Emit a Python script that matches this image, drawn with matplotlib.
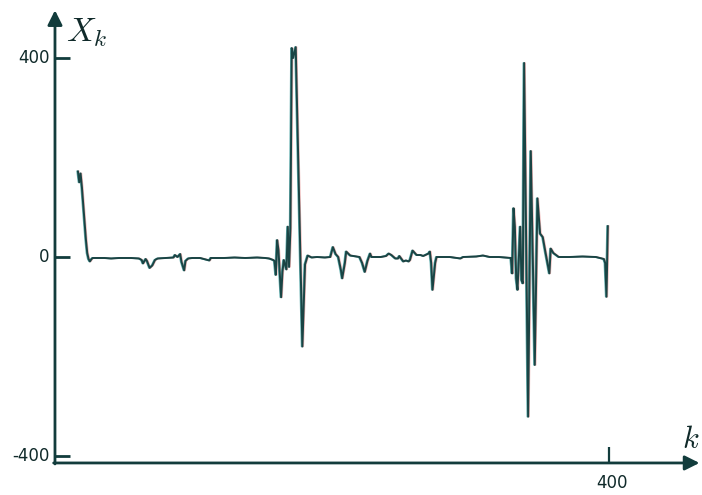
import matplotlib
matplotlib.use("Agg")
import matplotlib.pyplot as plt
from matplotlib import transforms

# sample index k and value X_k
k_vals = [0, 1, 2, 3, 4, 5, 6, 7, 8, 9, 10, 11, 20, 25, 31, 40, 46, 48, 49, 51,
          52, 54, 56, 58, 60, 66, 72, 73, 75, 77, 78, 80, 81, 83, 86, 92, 99,
          100, 110, 118, 126, 135, 141, 144, 147, 148, 149, 150, 151, 153, 154,
          155, 157, 158, 159, 160, 161, 162, 164, 169, 171, 173, 176, 180, 186,
          190, 192, 194, 196, 198, 199, 201, 202, 205, 212, 214, 216, 218, 220,
          221, 228, 232, 234, 236, 239, 241, 242, 245, 247, 249, 250, 252, 255,
          258, 260, 264, 265, 266, 267, 269, 270, 280, 288, 290, 300, 305, 310,
          317, 326, 327, 328, 329, 330, 331, 333, 334, 335, 336, 339, 341, 344,
          346, 348, 350, 352, 355, 356, 358, 362, 370, 380, 390, 396, 397, 398,
          399]
x_vals = [172, 150, 168, 140, 105, 70, 35, 8, -4, -9, -5, -2, -2, -3, -2, -2, -3,
          -6, -13, -4, -8, -22, -17, -6, -3, -2, -1, 4, 0, 6, -10, -27, -8, -3,
          -2, -2, -7, -2, -2, -1, -2, -1, -2, -3, -6, -8, -36, 34, 14, -81, -30,
          -6, -25, 61, -20, 58, 420, 400, 422, -180, -15, 3, -1, 0, -1, 0, 20, 6,
          0, -26, -43, -12, 11, 3, 0, -12, -30, -8, 7, 0, 0, 2, 7, 4, -3, -3, 2,
          -9, -7, -9, -6, 13, 4, 4, 2, 7, 11, -12, -66, -12, 0, 0, -3, 0, 1, 3,
          0, 0, -2, -33, 98, 61, -43, -66, 61, -46, -53, 390, -321, 213, -217,
          118, 47, 40, 10, -33, 17, 8, 0, 0, 1, 0, -4, -12, -80, 62]

y_ticks = [400, 0, -400]
x_ticks = [400]

axis_col = "#123c3c"
line_col = "#1a4444"

plt.rcParams["mathtext.fontset"] = "cm"

fig = plt.figure(figsize=(7.02, 4.95), dpi=100)
ax = fig.add_axes([0, 0, 1, 1])
ax.set_xlim(-58.7, 469.9)
ax.set_ylim(-478.4, 516.6)
ax.axis("off")

x0, y0 = -17.3, -414

# axes with arrows
ax.annotate("", xy=(x0, 496), xytext=(x0, y0 - 2),
            arrowprops=dict(arrowstyle="-|>", lw=2, color=axis_col,
                            mutation_scale=22, shrinkA=0, shrinkB=0))
ax.annotate("", xy=(468, y0), xytext=(x0 - 1, y0),
            arrowprops=dict(arrowstyle="-|>", lw=2, color=axis_col,
                            mutation_scale=22, shrinkA=0, shrinkB=0))

for t in y_ticks:
    ax.plot([x0, x0 + 11], [t, t], color=axis_col, lw=2, solid_capstyle="butt")
    ax.annotate(str(t), xy=(x0, t), xytext=(-4, 0), textcoords="offset points",
                ha="right", va="center", fontsize=12, color="#102a2a")
for t in x_ticks:
    ax.plot([t, t], [y0, y0 + 32], color=axis_col, lw=1.6, solid_capstyle="butt")
    ax.annotate(str(t), xy=(t, y0), xytext=(2, -8), textcoords="offset points",
                ha="center", va="top", fontsize=12, color="#102a2a")

ax.text(-9, 418, "$X_k$", fontsize=24, color="#102a2a", ha="left", va="bottom")
ax.text(455, -366, "$k$", fontsize=22, color="#102a2a", ha="left", va="center")

# slight colour fringes like the scanned original
shift_r = transforms.offset_copy(ax.transData, fig=fig, x=0.8, y=0, units="dots")
shift_c = transforms.offset_copy(ax.transData, fig=fig, x=-0.8, y=0, units="dots")
ax.plot(k_vals, x_vals, color="#e08080", lw=1.2, alpha=0.6, transform=shift_r)
ax.plot(k_vals, x_vals, color="#3a9a9a", lw=1.2, alpha=0.8, transform=shift_c)
ax.plot(k_vals, x_vals, color=line_col, lw=1.4)

fig.savefig("out.png", dpi=100, facecolor="white")
